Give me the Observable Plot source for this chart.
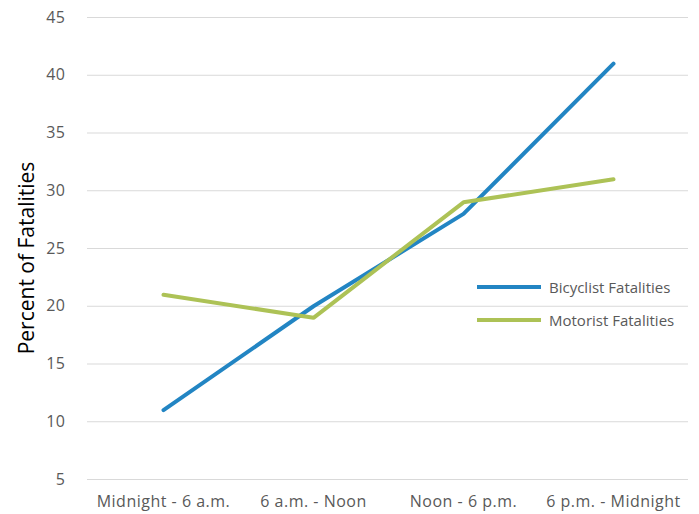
<!DOCTYPE html>
<html>
<head>
<meta charset="utf-8">
<script src="https://cdn.jsdelivr.net/npm/d3@7"></script>
<script src="https://cdn.jsdelivr.net/npm/@observablehq/plot@0.6"></script>
<style>
  html, body { margin: 0; padding: 0; background: #fff; }
  #wrap { position: relative; width: 699px; height: 514px; font-family: "Open Sans", sans-serif; }
  .legend { position: absolute; left: 477px; font-size: 15px; color: #595959; display: flex; align-items: center; }
  .legend .sw { width: 64px; height: 4px; margin-right: 8px; }
  svg g[aria-label="x-axis tick label"] text, svg g[aria-label="y-axis tick label"] text { letter-spacing: 0.5px; }
</style>
</head>
<body>
<div id="wrap"></div>
<script>
const categories = ["Midnight - 6 a.m.", "6 a.m. - Noon", "Noon - 6 p.m.", "6 p.m. - Midnight"];
const bicyclist = [11, 20, 28, 41];
const motorist = [21, 19, 29, 31];
const seriesNames = ["Bicyclist Fatalities", "Motorist Fatalities"];
const seriesColors = ["#2285c3", "#adc256"];
const yTicks = [5, 10, 15, 20, 25, 30, 35, 40, 45];

const data = [];
categories.forEach((c, i) => {
  data.push({cat: c, value: bicyclist[i], series: seriesNames[0]});
  data.push({cat: c, value: motorist[i], series: seriesNames[1]});
});

const chart = Plot.plot({
  width: 699,
  height: 514,
  marginTop: 17,
  marginBottom: 35,
  marginLeft: 87,
  marginRight: 11,
  style: {fontFamily: "'Open Sans', sans-serif", fontSize: "16px", color: "#595959", background: "#fff"},
  x: {type: "point", domain: categories, padding: 0.5, label: null},
  y: {domain: [5, 45], ticks: yTicks, label: null},
  color: {domain: seriesNames, range: seriesColors},
  marks: [
    Plot.ruleY(yTicks, {stroke: "#d9d9d9", strokeWidth: 1}),
    Plot.axisY({ticks: yTicks, tickSize: 0, tickPadding: 22, label: null, fontSize: 16}),
    Plot.axisX({tickSize: 0, tickPadding: 16, label: null, fontSize: 16}),
    Plot.line(data.filter(d => d.series === seriesNames[0]), {x: "cat", y: "value", stroke: "series", strokeWidth: 4, strokeLinecap: "round", strokeLinejoin: "miter"}),
    Plot.line(data.filter(d => d.series === seriesNames[1]), {x: "cat", y: "value", stroke: "series", strokeWidth: 4, strokeLinecap: "round", strokeLinejoin: "miter"})
  ]
});

const wrap = document.getElementById("wrap");
wrap.appendChild(chart);

// y-axis title
const svg = d3.select(chart);
svg.append("text")
  .attr("transform", "translate(34,258) rotate(-90)")
  .attr("text-anchor", "middle")
  .attr("fill", "#000")
  .attr("font-size", "21px")
  .attr("font-family", "'Open Sans', sans-serif")
  .text("Percent of Fatalities");

// legend
const legendTops = [277, 310];
seriesNames.forEach((name, i) => {
  const div = document.createElement("div");
  div.className = "legend";
  div.style.top = legendTops[i] + "px";
  div.innerHTML = `<span class="sw" style="background:${seriesColors[i]}"></span><span>${name}</span>`;
  wrap.appendChild(div);
});
</script>
</body>
</html>
